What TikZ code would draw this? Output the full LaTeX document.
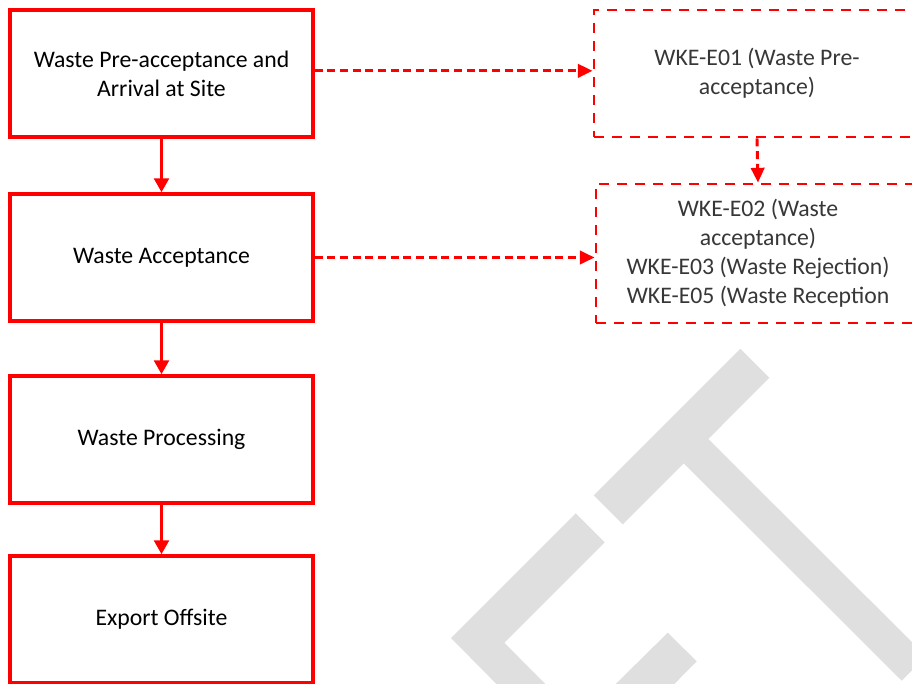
\documentclass[tikz,border=0pt]{standalone}
\usepackage{fontspec}
\setmainfont{Carlito}
\usetikzlibrary{arrows.meta}

\definecolor{flowred}{RGB}{255,0,0}
\definecolor{markgray}{RGB}{223,223,223}
\definecolor{notegray}{RGB}{55,55,55}

\begin{document}
\begin{tikzpicture}[x=0.75pt,y=-0.75pt,
  stagebox/.style={draw=flowred, line width=2.6pt, fill=white,
    minimum width=227.25pt, minimum height=95.25pt, align=center,
    font=\fontsize{17.8}{21.75}\selectfont},
  notebox/.style={draw=flowred, line width=2.2pt, dash pattern=on 7.5pt off 6pt,
    fill=white, align=center, text=notegray,
    font=\fontsize{17.8}{21.75}\selectfont},
  flowarrow/.style={draw=flowred, line width=2.6pt,
    -{Triangle[length=10.5pt,width=11pt]}},
  notearrow/.style={draw=flowred, line width=2.2pt, dash pattern=on 6pt off 3.5pt,
    -{Triangle[length=11pt,width=10pt]}},
  logoshape/.style={fill=markgray, draw=none}
]
\useasboundingbox (0,0) rectangle (912,684);
\clip (0,0) rectangle (912,684);

% background logo mark
\fill[logoshape] (740.3,348.7) -- (769.3,377.7) -- (708.3,439) -- (926.2,656.3)
  -- (901.7,680.7) -- (683.7,463.3) -- (622.7,524.3) -- (593.7,495.3) -- cycle;
\fill[logoshape] (575.7,513.3) -- (604.7,542.3) -- (504.3,642.7) -- (545.6,684.3)
  -- (496.7,684.3) -- (451,638) -- cycle;
\fill[logoshape] (667.7,632.7) -- (696.7,661.3) -- (674,684.3) -- (615.4,684.3) -- cycle;

% main process stages
\node[stagebox] (b1) at (161.5,73.5) {Waste Pre-acceptance and\\Arrival at Site};
\node[stagebox] (b2) at (161.5,257.5) {Waste Acceptance};
\node[stagebox] (b3) at (161.5,439.5) {Waste Processing};
\node[stagebox] (b4) at (161.5,619.5) {Export Offsite};

% linked procedures
\node[notebox, minimum width=244.5pt, minimum height=95.25pt] (b5) at (757,73.5)
  {WKE-E01 (Waste Pre-\\acceptance)};
\node[notebox, minimum width=243pt, minimum height=104.25pt] (b6) at (758,253.5)
  {WKE-E02 (Waste\\acceptance)\\WKE-E03 (Waste Rejection)\\WKE-E05 (Waste Reception};

% process flow
\draw[flowarrow] (b1) -- (b2);
\draw[flowarrow] (b2) -- (b3);
\draw[flowarrow] (b3) -- (b4);

% references to procedures
\draw[notearrow] ([yshift=2pt]b1.east) -- ([yshift=2pt]b1.east -| b5.west);
\draw[notearrow] (b2.east) -- (b2.east -| b6.west);
\draw[notearrow] (b5.south) -- (b6.north);
\end{tikzpicture}
\end{document}
